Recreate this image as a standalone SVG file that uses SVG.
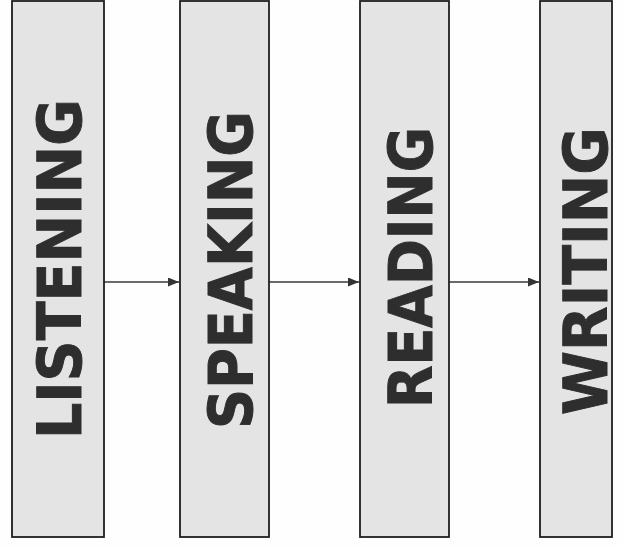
<svg xmlns="http://www.w3.org/2000/svg" width="623" height="547" viewBox="0 0 623 547">
<defs>
<style>
.box{fill:#e4e4e4;stroke:#1e1e1e;stroke-width:1.8}
.lbl{font-family:"DejaVu Sans",Verdana,sans-serif;font-weight:bold;font-size:61px;fill:#2e2e2e;stroke:#2e2e2e;stroke-width:1;text-anchor:middle}
.conn{stroke:#3a3a3a;stroke-width:1.3;fill:none}
</style>
<marker id="ah" markerWidth="11" markerHeight="9" refX="11" refY="4.5" orient="auto" markerUnits="userSpaceOnUse">
<path d="M0,0 L11,4.5 L0,9 Z" fill="#333"/>
</marker>
</defs>
<rect width="623" height="547" fill="#fefefe"/>
<g id="connectors">
<line class="conn" x1="104" y1="282" x2="179" y2="282" marker-end="url(#ah)"/>
<line class="conn" x1="269" y1="282" x2="359" y2="282" marker-end="url(#ah)"/>
<line class="conn" x1="449" y1="282" x2="539" y2="282" marker-end="url(#ah)"/>
</g>
<g id="listening">
<rect class="box" x="12" y="1" width="92" height="536"/>
<text class="lbl" transform="translate(81,269) rotate(-90)" textLength="340" lengthAdjust="spacingAndGlyphs">LISTENING</text>
</g>
<g id="speaking">
<rect class="box" x="180" y="1" width="89" height="536"/>
<text class="lbl" transform="translate(252,270) rotate(-90)" textLength="318" lengthAdjust="spacingAndGlyphs">SPEAKING</text>
</g>
<g id="reading">
<rect class="box" x="360" y="1" width="89" height="536"/>
<text class="lbl" transform="translate(432,267.5) rotate(-90)" textLength="281" lengthAdjust="spacingAndGlyphs">READING</text>
</g>
<g id="writing">
<rect class="box" x="540" y="1" width="72" height="536"/>
<text class="lbl" transform="translate(607,271) rotate(-90)" textLength="288" lengthAdjust="spacingAndGlyphs">WRITING</text>
</g>
</svg>
